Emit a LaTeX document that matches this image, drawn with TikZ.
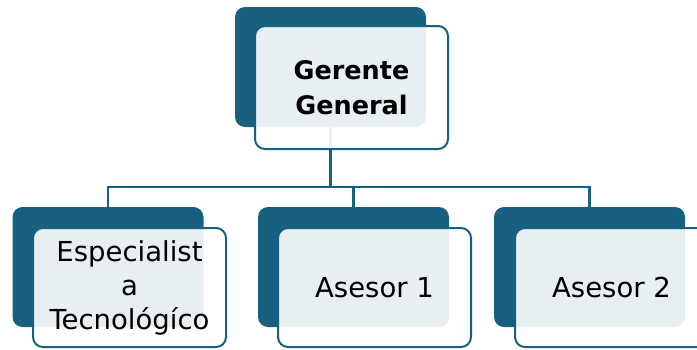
\documentclass[tikz,border=0pt]{standalone}
\usepackage{fontspec}
\setmainfont{DejaVu Sans}
\definecolor{orgblue}{HTML}{17607F}

\begin{document}
\begin{tikzpicture}[x=1pt,y=-1pt,
    back/.style={fill=orgblue,rounded corners=10pt,inner sep=0pt,minimum width=191pt,minimum height=120pt},
    front/.style={draw=orgblue,line width=2pt,fill=white,fill opacity=0.9,text opacity=1,rounded corners=10pt,
      inner sep=0pt,minimum width=193pt,minimum height=119pt,align=center,
      font=\fontsize{27.5}{34}\selectfont},
    conn/.style={orgblue,line width=2.2pt}]
    \useasboundingbox (0,0) rectangle (697,349);
    % fondo oscuro
    \node[back] (gerB) at (330.5,67) {};
    \node[back] (espB) at (108,267) {};
    \node[back] (as1B) at (353.5,267) {};
    \node[back] (as2B) at (589.5,267) {};
    % conectores
    \draw[conn] (gerB.south) -- ++(0,60) coordinate (bus);
    \draw[conn] (espB.north) |- (bus);
    \draw[conn] (as1B.north) |- (bus);
    \draw[conn] (as2B.north) |- (bus);
    % cajas con texto
    \node[front,minimum height=123pt,font=\fontsize{25.5}{35}\selectfont\bfseries] (ger) at (351.5,87.5)
     {Gerente\\General};
    \node[front] (esp) at (129.5,287.5) {Especialist\\a\\Tecnológíco};
    \node[front] (as1) at (374.5,287.5) {Asesor 1};
    \node[front] (as2) at (611.5,287.5) {Asesor 2};
\end{tikzpicture}
\end{document}
